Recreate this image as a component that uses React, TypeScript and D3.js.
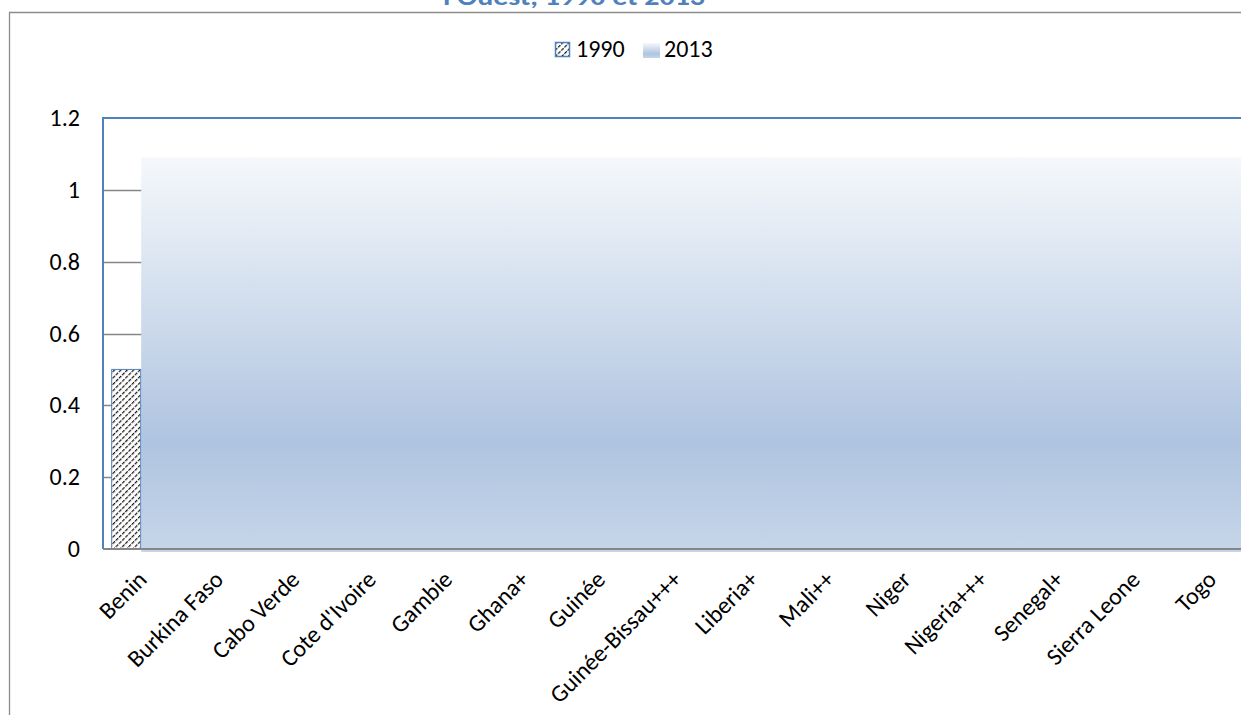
import React, { useEffect, useRef } from "react";
import * as d3 from "d3";

// Countries on the category axis
const categories = [
  "Benin",
  "Burkina Faso",
  "Cabo Verde",
  "Cote d'Ivoire",
  "Gambie",
  "Ghana+",
  "Guinée",
  "Guinée-Bissau+++",
  "Liberia+",
  "Mali++",
  "Niger",
  "Nigeria+++",
  "Senegal+",
  "Sierra Leone",
  "Togo",
];

// Series values (only the leading entries are shown)
const values1990: (number | null)[] = [0.5];
const values2013: (number | null)[] = [1.09];

const seriesNames = ["1990", "2013"];
const yTicks = [0, 0.2, 0.4, 0.6, 0.8, 1, 1.2];
const titleTail = "l'Ouest, 1990 et 2013";

const W = 1241;
const H = 715;
const FONT = "Carlito, Calibri, Lato, sans-serif";
const BLUE = "#4F81BD";
const GRAY = "#868686";

export default function App() {
  const ref = useRef<SVGSVGElement | null>(null);

  useEffect(() => {
    const svg = d3.select(ref.current);
    svg.selectAll("*").remove();

    const plot = { left: 103, top: 118, bandW: 76.4, bottom: 549 };
    const plotRight = plot.left + plot.bandW * categories.length;

    const x = d3
      .scaleBand<string>()
      .domain(categories)
      .range([plot.left, plotRight])
      .paddingInner(0)
      .paddingOuter(0);
    const y = d3.scaleLinear().domain([0, 1.2]).range([plot.bottom, plot.top]);

    const groupGap = 0.107; // fraction of a band left empty on each side
    const sub = d3
      .scaleBand<string>()
      .domain(seriesNames)
      .range([x.bandwidth() * groupGap, x.bandwidth() * (1 - groupGap)]);

    const defs = svg.append("defs");
    const pat = defs
      .append("pattern")
      .attr("id", "hatch")
      .attr("patternUnits", "userSpaceOnUse")
      .attr("width", 4.5)
      .attr("height", 4.5)
      .attr("patternTransform", "rotate(45)");
    pat.append("rect").attr("width", 4.5).attr("height", 4.5).attr("fill", "#fff");
    pat
      .append("line")
      .attr("x1", 0)
      .attr("y1", 0)
      .attr("x2", 0)
      .attr("y2", 4.5)
      .attr("stroke", "#111")
      .attr("stroke-width", 2.4)
      .attr("stroke-dasharray", "3.4 1.1");

    const grad = defs
      .append("linearGradient")
      .attr("id", "grad2013")
      .attr("x1", 0)
      .attr("y1", 0)
      .attr("x2", 0)
      .attr("y2", 1);
    grad.append("stop").attr("offset", "0%").attr("stop-color", "#F5F8FB");
    grad.append("stop").attr("offset", "72%").attr("stop-color", "#AFC4E0");
    grad.append("stop").attr("offset", "100%").attr("stop-color", "#C6D6E9");

    // Chart frame
    svg
      .append("path")
      .attr("d", `M9.5,${H} V12.5 H${W}`)
      .attr("fill", "none")
      .attr("stroke", "#8C8C8C")
      .attr("stroke-width", 1.3);

    // Title (last line)
    svg
      .append("text")
      .attr("x", 574)
      .attr("y", 5)
      .attr("text-anchor", "middle")
      .attr("font-family", FONT)
      .attr("font-weight", "bold")
      .attr("font-size", 24)
      .attr("fill", BLUE)
      .attr("textLength", 262)
      .attr("lengthAdjust", "spacingAndGlyphs")
      .text(titleTail);

    // Gridlines
    svg
      .append("g")
      .selectAll("line")
      .data(yTicks.filter((t) => t > 0 && t < 1.2))
      .join("line")
      .attr("x1", plot.left)
      .attr("x2", W)
      .attr("y1", (d) => Math.round(y(d)) + 0.5)
      .attr("y2", (d) => Math.round(y(d)) + 0.5)
      .attr("stroke", GRAY)
      .attr("stroke-width", 1.5);

    // 2013 series: one continuous band from Benin onward
    const v13 = values2013[0] as number;
    const x13 = (x(categories[0]) as number) + (sub("2013") as number);
    svg
      .append("rect")
      .attr("x", x13)
      .attr("y", y(v13))
      .attr("width", plotRight - x13)
      .attr("height", y(0) - y(v13) + 3)
      .attr("fill", "url(#grad2013)");

    // 1990 bars
    svg
      .append("g")
      .selectAll("rect")
      .data(values1990.map((v, i) => ({ v, c: categories[i] })).filter((d) => d.v != null))
      .join("rect")
      .attr("x", (d) => (x(d.c) as number) + (sub("1990") as number) + 0.5)
      .attr("y", (d) => y(d.v as number))
      .attr("width", sub.bandwidth() - 1)
      .attr("height", (d) => y(0) - y(d.v as number))
      .attr("fill", "url(#hatch)")
      .attr("stroke", BLUE)
      .attr("stroke-width", 1);

    // Plot area border (top and left) and category axis
    svg
      .append("path")
      .attr("d", `M${plot.left},${plot.bottom} V${plot.top} H${W}`)
      .attr("fill", "none")
      .attr("stroke", BLUE)
      .attr("stroke-width", 2);
    svg
      .append("line")
      .attr("x1", plot.left)
      .attr("x2", W)
      .attr("y1", plot.bottom)
      .attr("y2", plot.bottom)
      .attr("stroke", GRAY)
      .attr("stroke-width", 2.2);

    // Value axis labels
    svg
      .append("g")
      .selectAll("text")
      .data(yTicks)
      .join("text")
      .attr("x", 80)
      .attr("y", (d) => y(d) + 8)
      .attr("text-anchor", "end")
      .attr("font-family", FONT)
      .attr("font-size", 24)
      .attr("fill", "#000")
      .text((d) => String(d));

    // Category labels, rotated
    svg
      .append("g")
      .selectAll("text")
      .data(categories)
      .join("text")
      .attr("transform", (d) => {
        const cx = (x(d) as number) + x.bandwidth() / 2 + 7;
        return `translate(${cx},${plot.bottom + 32}) rotate(-45)`;
      })
      .attr("text-anchor", "end")
      .attr("font-family", FONT)
      .attr("font-size", 24)
      .attr("fill", "#000")
      .text((d) => d);

    // Legend
    const leg = svg.append("g");
    leg
      .append("rect")
      .attr("x", 555.5)
      .attr("y", 42.5)
      .attr("width", 14)
      .attr("height", 14)
      .attr("fill", "url(#hatch)")
      .attr("stroke", BLUE)
      .attr("stroke-width", 1.5);
    leg
      .append("text")
      .attr("x", 576)
      .attr("y", 57)
      .attr("font-family", FONT)
      .attr("font-size", 24)
      .text(seriesNames[0]);
    leg
      .append("rect")
      .attr("x", 643)
      .attr("y", 43)
      .attr("width", 17)
      .attr("height", 15)
      .attr("fill", "url(#grad2013)");
    leg
      .append("text")
      .attr("x", 664)
      .attr("y", 57)
      .attr("font-family", FONT)
      .attr("font-size", 24)
      .text(seriesNames[1]);
  }, []);

  return (
    <svg
      ref={ref}
      width={W}
      height={H}
      style={{ position: "absolute", left: 0, top: 0, background: "#fff" }}
    />
  );
}
